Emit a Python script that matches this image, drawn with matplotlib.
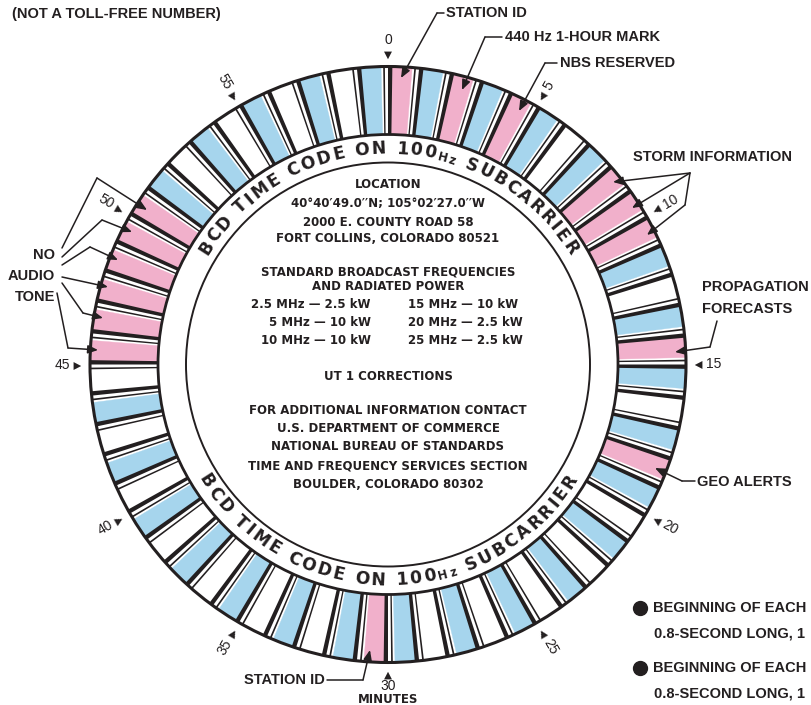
import numpy as np
import matplotlib
matplotlib.use("Agg")
import matplotlib.pyplot as plt
from matplotlib.patches import Wedge, Circle
from matplotlib.font_manager import FontProperties, findfont, get_font

# ---------------- data ----------------
# colour class of each minute of the hour (P = pink, B = blue, W = white)
minute_kinds = [
    'P', 'B', 'P', 'B', 'P', 'B', 'W', 'B', 'P', 'P',   # 0-9
    'P', 'B', 'W', 'B', 'P', 'B', 'W', 'B', 'P', 'B',   # 10-19
    'W', 'B', 'W', 'B', 'W', 'B', 'W', 'B', 'W', 'B',   # 20-29
    'P', 'B', 'W', 'B', 'W', 'B', 'W', 'B', 'W', 'B',   # 30-39
    'W', 'B', 'W', 'B', 'W', 'P', 'P', 'P', 'P', 'P',   # 40-49
    'P', 'B', 'W', 'B', 'W', 'B', 'W', 'B', 'W', 'B',   # 50-59
]
marker_minutes = [0, 5, 10, 15, 20, 25, 30, 35, 40, 45, 50, 55]
marker_labels = ['0', '5', '10', '15', '20', '25', '30', '35', '40', '45', '50', '55']

bcd_parts = [("BCD TIME CODE ON 100", 1.0), ("Hz", 0.68), (" SUBCARRIER", 1.0)]

info_lines = ["LOCATION",
              "40\u00b040\u203249.0\u2032\u2032N; 105\u00b002\u203227.0\u2032\u2032W",
              "2000 E. COUNTY ROAD 58",
              "FORT COLLINS, COLORADO 80521",
              "STANDARD BROADCAST FREQUENCIES",
              "AND RADIATED POWER"]
freq_left = ["2.5 MHz \u2014 2.5 kW", "5 MHz \u2014 10 kW", "10 MHz \u2014 10 kW"]
freq_right = ["15 MHz \u2014 10 kW", "20 MHz \u2014 2.5 kW", "25 MHz \u2014 2.5 kW"]
contact_lines = ["UT 1 CORRECTIONS",
                 "FOR ADDITIONAL INFORMATION CONTACT",
                 "U.S. DEPARTMENT OF COMMERCE",
                 "NATIONAL BUREAU OF STANDARDS",
                 "TIME AND FREQUENCY SERVICES SECTION",
                 "BOULDER, COLORADO 80302"]
legend_lines = [("BEGINNING OF EACH", "0.8-SECOND LONG, 1"),
                ("BEGINNING OF EACH", "0.8-SECOND LONG, 1")]

# ---------------- style / layout ----------------
INK = '#231f20'
kind_colors = {'P': '#f1b0cb', 'B': '#a6d5ed', 'W': '#ffffff'}
CX, CY = 388.0, 364.5
R_OUT, R_IN, R_CORE = 298.0, 230.0, 202.0
R_TXT = 216.0

fig = plt.figure(figsize=(8.12, 7.05), dpi=100)
ax = fig.add_axes([0, 0, 1, 1])
ax.set_xlim(0, 812)
ax.set_ylim(705, 0)
ax.set_aspect('equal')
ax.axis('off')


def th(phi):
    # clockwise-from-top angle -> data angle (y axis inverted)
    return phi - 90.0


def pol(r, phi):
    a = np.radians(phi)
    return CX + r * np.sin(a), CY - r * np.cos(a)


# ring base
ax.add_patch(Wedge((CX, CY), R_OUT, 0, 360, width=R_OUT - R_IN,
                   facecolor='white', edgecolor='none'))
step = 360.0 / len(minute_kinds)
for m, kind in enumerate(minute_kinds):
    a0 = m * step
    c = kind_colors[kind]
    if kind != 'W':
        ax.add_patch(Wedge((CX, CY), R_OUT, th(a0 + 0.12 * step), th(a0 + 0.775 * step),
                           width=R_OUT - R_IN, facecolor=c, edgecolor=c, lw=0.3))
    for f0, f1 in [(0.0, 0.14), (0.845, 0.90)]:
        ax.add_patch(Wedge((CX, CY), R_OUT, th(a0 + f0 * step), th(a0 + f1 * step),
                           width=R_OUT - R_IN, facecolor=INK, edgecolor='none'))

ax.add_patch(Circle((CX, CY), R_OUT, fill=False, lw=2.2, ec=INK))
ax.add_patch(Circle((CX, CY), R_IN, fill=False, lw=2.0, ec=INK))
ax.add_patch(Circle((CX, CY), R_CORE, fill=False, lw=1.4, ec=INK))

# minute markers
for mm, lab in zip(marker_minutes, marker_labels):
    phi = mm * step
    x, y = pol(310, phi)
    ax.text(x, y, '\u25bc', rotation=-phi, rotation_mode='anchor', ha='center',
            va='center', fontsize=7.5, family='DejaVu Sans', color=INK)
    if phi % 180 == 0:
        rot, rn = 0, (324 if phi == 0 else 321)
    elif phi < 180:
        rot, rn = 90 - phi, 318 + 4 * len(lab)
    else:
        rot, rn = 270 - phi, 318 + 4 * len(lab)
    x, y = pol(rn, phi)
    ax.text(x, y, lab, rotation=rot, rotation_mode='anchor', ha='center',
            va='center', fontsize=10, family='Liberation Sans', color=INK)
ax.text(CX, 699.5, 'MINUTES', ha='center', va='center', fontsize=8.5,
        family='DejaVu Sans', weight='bold', color=INK)

# curved BCD text
BCD_SIZE = 12.3
fp = FontProperties(family='DejaVu Sans', weight='bold')
font = get_font(findfont(fp))
chars = [(c, sc) for s, sc in bcd_parts for c in s]
adv = []
for c, sc in chars:
    font.set_size(BCD_SIZE * sc, 72)
    adv.append(font.load_char(ord(c)).linearHoriAdvance / 65536.0 * 100 / 72)
adv = np.array(adv)
span = np.radians(118) * R_TXT
track = (span - adv.sum()) / (len(adv) - 1)
pos = np.cumsum(adv + track) - track - adv / 2
pos -= (pos[-1] + adv[-1] / 2) / 2
for (c, sc), s in zip(chars, pos):
    if c == ' ':
        continue
    d = np.degrees(s / R_TXT)
    # top arc
    phi = d
    r = R_TXT - (2.0 if sc < 1 else 0)
    x, y = pol(r, phi)
    ax.text(x, y, c, rotation=-phi, rotation_mode='anchor', ha='center', va='center',
            fontsize=BCD_SIZE * sc, family='DejaVu Sans', weight='bold', color=INK)
    # bottom arc
    phi = 180 - d
    r = R_TXT + (2.0 if sc < 1 else 0)
    x, y = pol(r, phi)
    ax.text(x, y, c, rotation=180 - phi, rotation_mode='anchor', ha='center', va='center',
            fontsize=BCD_SIZE * sc, family='DejaVu Sans', weight='bold', color=INK)

# centre text
CT = dict(family='DejaVu Sans', weight='bold', fontsize=8.5, color=INK, va='center')
for s, y in zip(info_lines, [185, 203, 222, 239, 272, 287]):
    ax.text(CX, y, s, ha='center', **CT)
for s, y in zip(freq_left, [304, 322, 340]):
    ax.text(371, y, s, ha='right', **CT)
for s, y in zip(freq_right, [304, 322, 340]):
    ax.text(408, y, s, ha='left', **CT)
for s, y in zip(contact_lines, [376, 410, 429, 447, 466, 484]):
    ax.text(CX, y, s, ha='center', **CT)

# outer labels
LT = dict(family='Liberation Sans', weight='bold', fontsize=10.5, color=INK, va='center')
ax.text(12, 14, '(NOT A TOLL-FREE NUMBER)', ha='left', **LT)
ax.text(446, 13, 'STATION ID', ha='left', **LT)
ax.text(505, 37, '440 Hz 1-HOUR MARK', ha='left', **LT)
ax.text(560, 63, 'NBS RESERVED', ha='left', **LT)
ax.text(633, 157, 'STORM INFORMATION', ha='left', **LT)
ax.text(702, 287, 'PROPAGATION', ha='left', **LT)
ax.text(702, 309, 'FORECASTS', ha='left', **LT)
ax.text(697, 482, 'GEO ALERTS', ha='left', **LT)
ax.text(55, 255, 'NO', ha='right', **LT)
ax.text(55, 276, 'AUDIO', ha='right', **LT)
ax.text(55, 297, 'TONE', ha='right', **LT)
ax.text(325, 680, 'STATION ID', ha='right', **LT)
for (l1, l2), y in zip(legend_lines, [608, 668]):
    ax.plot([640], [y], 'o', ms=10, color=INK)
    ax.text(653, y, l1, ha='left', **LT)
    ax.text(654, y + 25, l2, ha='left', **LT)


def leader(pts):
    xs, ys = zip(*pts)
    if len(pts) > 2:
        ax.plot(xs[:-1], ys[:-1], color=INK, lw=1.1, solid_capstyle='round')
    ax.annotate('', xy=pts[-1], xytext=pts[-2],
                arrowprops=dict(arrowstyle='-|>,head_length=0.6,head_width=0.25',
                                color=INK, lw=1.1, shrinkA=0, shrinkB=0))


leader([(444, 13), (437, 13), (401, 78)])
leader([(502, 37), (485, 37), (462, 90)])
leader([(557, 63), (545, 63), (519, 111)])
leader([(690, 173), (613, 182)])
leader([(690, 173), (632, 208)])
leader([(690, 173), (685, 205), (647, 235)])
leader([(717, 321), (710, 347), (675, 352)])
leader([(695, 481), (682, 481), (655, 468)])
leader([(327, 680), (363, 680), (370, 650)])
leader([(62, 248), (97, 178), (147, 210)])
leader([(62, 257), (102, 220), (132, 232)])
leader([(62, 265), (90, 247), (118, 260)])
leader([(62, 277), (108, 287)])
leader([(62, 283), (83, 313), (103, 318)])
leader([(57, 293), (68, 348), (98, 350)])

fig.savefig('out.png', dpi=100, facecolor='white')
